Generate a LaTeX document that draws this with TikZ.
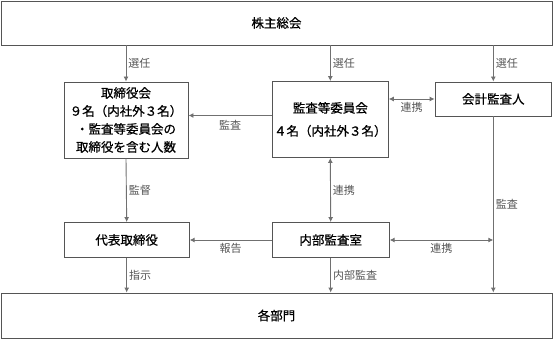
\documentclass[tikz,border=0pt]{standalone}
\usepackage{fontspec}
\setmainfont{Noto Sans CJK JP}
\newfontfamily\boxfont[FakeBold=0.7]{Noto Sans CJK JP}
\usetikzlibrary{arrows.meta,calc}
\definecolor{boxline}{HTML}{555555}
\definecolor{arrline}{HTML}{707070}
\definecolor{labtext}{HTML}{555555}
\tikzset{
  box/.style={draw=boxline, line width=0.9pt, align=center, inner sep=0pt, font=\boxfont\fontsize{12.5}{18}\selectfont, text=black},
  arr/.style={draw=arrline, line width=0.9pt, -{Latex[length=5pt,width=5pt]}},
  darr/.style={draw=arrline, line width=0.9pt, {Latex[length=5pt,width=5pt]}-{Latex[length=5pt,width=5pt]}},
  lab/.style={font=\fontsize{11}{13}\selectfont, text=labtext, inner sep=2pt}
}
\begin{document}
\begin{tikzpicture}[x=1pt,y=-1pt]
\useasboundingbox (0,0) rectangle (553,339);
\node[box, minimum width=551pt, minimum height=44pt] (top) at (276.5,23) {株主総会};
\node[box, minimum width=124pt, minimum height=76pt, font=\boxfont\fontsize{12.5}{18}\selectfont] (tori) at (126,120) {取締役会\\９名（内社外３名）\\・監査等委員会の\\取締役を含む人数};
\node[box, minimum width=116pt, minimum height=76pt, font=\boxfont\fontsize{12.5}{23}\selectfont] (kansa) at (330.3,119.5) {監査等委員会\\４名（内社外３名）};
\node[box, minimum width=116.5pt, minimum height=34pt] (kaikei) at (493.3,99) {会計監査人};
\node[box, minimum width=125pt, minimum height=35pt] (daihyo) at (126.7,240) {代表取締役};
\node[box, minimum width=117pt, minimum height=35pt] (naibu) at (330.7,240) {内部監査室};
\node[box, minimum width=551pt, minimum height=45pt] (bottom) at (276.5,315.5) {各部門};
\coordinate (junc) at (kaikei.south |- naibu.east);
% selections
\draw[arr] (top.south -| tori.north) -- node[lab, right] {選任} (tori.north);
\draw[arr] (top.south -| kansa.north) -- node[lab, right] {選任} (kansa.north);
\draw[arr] (top.south -| kaikei.north) -- node[lab, right] {選任} (kaikei.north);
% audit to board
\draw[arr] ([yshift=4pt]kansa.west) -- node[lab, below, yshift=-2pt] {監査} ([yshift=4pt]kansa.west -| tori.east);
% cooperation
\draw[darr] (kaikei.west -| kansa.east) -- node[lab, below, yshift=-1pt] {連携} (kaikei.west);
\draw[arr] (tori.south) -- node[lab, right] {監督} (daihyo.north);
\draw[darr] (kansa.south) -- node[lab, right] {連携} (naibu.north);
\draw[arr] (naibu.west) -- node[lab, below, yshift=-1pt] {報告} (daihyo.east);
\draw[darr] (naibu.east) -- node[lab, below, yshift=-1pt] {連携} (junc);
\draw[arr] (kaikei.south) -- node[lab, right] {監査} (kaikei.south |- bottom.north);
\draw[arr] (daihyo.south) -- node[lab, right] {指示} (daihyo.south |- bottom.north);
\draw[arr] (naibu.south) -- node[lab, right] {内部監査} (naibu.south |- bottom.north);
\end{tikzpicture}
\end{document}
